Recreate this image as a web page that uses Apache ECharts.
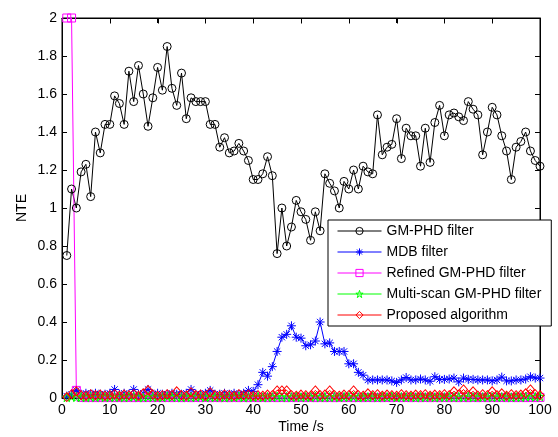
<!DOCTYPE html>
<html>
<head>
<meta charset="utf-8">
<script src="https://cdn.jsdelivr.net/npm/echarts@6/dist/echarts.min.js"></script>
<style>
html,body{margin:0;padding:0;background:#fff;}
#c{width:558px;height:437px;}
</style>
</head>
<body>
<div id="c"></div>
<script>
// Time steps 1..100
var times = [];
for (var i = 1; i <= 100; i++) times.push(i);

var xTicks = [0,10,20,30,40,50,60,70,80,90,100];
var yTicks = [0,0.2,0.4,0.6,0.8,1,1.2,1.4,1.6,1.8,2];

var seriesNames = ['GM-PHD filter','MDB filter','Refined GM-PHD filter','Multi-scan GM-PHD filter','Proposed algorithm'];

var gmphd = [0.75,1.10,1.00,1.19,1.23,1.06,1.40,1.29,1.44,1.44,
             1.59,1.55,1.44,1.72,1.56,1.75,1.60,1.43,1.58,1.74,
             1.62,1.85,1.63,1.54,1.71,1.47,1.58,1.56,1.56,1.56,
             1.44,1.44,1.32,1.37,1.29,1.30,1.34,1.30,1.25,1.15,
             1.15,1.18,1.27,1.17,0.76,1.00,0.80,0.90,1.04,0.98,
             0.94,0.83,0.98,0.88,1.18,1.13,1.09,1.00,1.14,1.10,
             1.20,1.10,1.22,1.19,1.18,1.49,1.28,1.32,1.335,1.47,
             1.26,1.42,1.38,1.38,1.22,1.42,1.24,1.45,1.54,1.38,
             1.49,1.50,1.48,1.46,1.56,1.52,1.49,1.28,1.40,1.53,
             1.49,1.38,1.30,1.15,1.32,1.35,1.40,1.30,1.25,1.22];

var mdb = [0.010,0.020,0.040,0.020,0.025,0.020,0.025,0.020,0.020,0.025,
           0.045,0.020,0.025,0.020,0.045,0.020,0.025,0.045,0.020,0.025,
           0.020,0.020,0.025,0.020,0.020,0.025,0.045,0.020,0.020,0.025,
           0.040,0.020,0.020,0.025,0.020,0.025,0.020,0.025,0.040,0.035,
           0.070,0.135,0.115,0.165,0.245,0.320,0.335,0.380,0.320,0.315,
           0.275,0.280,0.300,0.400,0.285,0.290,0.245,0.245,0.245,0.180,
           0.180,0.135,0.120,0.095,0.095,0.095,0.095,0.095,0.090,0.082,
           0.095,0.108,0.095,0.095,0.100,0.095,0.088,0.112,0.098,0.098,
           0.100,0.105,0.085,0.105,0.098,0.098,0.095,0.095,0.095,0.090,
           0.095,0.110,0.090,0.090,0.095,0.095,0.100,0.112,0.105,0.105];

var refined = [2.0,2.0,0.04,0.003,0.002,0.003,0.002,0.003,0.002,0.003,
               0.002,0.003,0.002,0.003,0.002,0.003,0.002,0.003,0.002,0.003,
               0.002,0.003,0.002,0.003,0.002,0.003,0.002,0.003,0.002,0.003,
               0.002,0.003,0.002,0.003,0.002,0.003,0.002,0.003,0.002,0.003,
               0.002,0.003,0.002,0.003,0.002,0.003,0.002,0.003,0.002,0.003,
               0.002,0.003,0.002,0.003,0.002,0.003,0.002,0.003,0.002,0.003,
               0.002,0.003,0.002,0.003,0.002,0.003,0.002,0.003,0.002,0.003,
               0.002,0.003,0.002,0.003,0.002,0.003,0.002,0.003,0.002,0.003,
               0.002,0.003,0.002,0.003,0.002,0.003,0.002,0.003,0.002,0.003,
               0.002,0.003,0.002,0.003,0.002,0.003,0.002,0.003,0.002,0.003];

var multiscan = [0.004,0.008,0.005,0.006,0.004,0.007,0.005,0.008,0.004,0.006,
                 0.005,0.007,0.004,0.006,0.008,0.005,0.004,0.007,0.005,0.006,
                 0.004,0.008,0.005,0.006,0.004,0.007,0.005,0.006,0.008,0.004,
                 0.006,0.005,0.007,0.004,0.006,0.005,0.008,0.004,0.006,0.005,
                 0.007,0.004,0.006,0.005,0.008,0.004,0.006,0.005,0.007,0.004,
                 0.006,0.005,0.008,0.004,0.006,0.005,0.007,0.004,0.006,0.005,
                 0.008,0.004,0.006,0.005,0.007,0.004,0.006,0.005,0.008,0.004,
                 0.006,0.005,0.007,0.004,0.006,0.005,0.008,0.004,0.006,0.005,
                 0.007,0.004,0.006,0.005,0.008,0.004,0.006,0.005,0.007,0.004,
                 0.006,0.005,0.008,0.004,0.006,0.005,0.007,0.009,0.006,0.008];

var proposed = [0.005,0.020,0.035,0.015,0.012,0.020,0.015,0.018,0.012,0.015,
                0.020,0.012,0.018,0.015,0.020,0.012,0.025,0.042,0.018,0.012,
                0.015,0.020,0.015,0.035,0.015,0.012,0.030,0.015,0.018,0.012,
                0.030,0.015,0.012,0.018,0.015,0.012,0.020,0.015,0.018,0.012,
                0.015,0.012,0.018,0.015,0.040,0.040,0.040,0.015,0.012,0.018,
                0.015,0.012,0.040,0.015,0.018,0.040,0.015,0.012,0.018,0.015,
                0.040,0.015,0.012,0.025,0.015,0.020,0.012,0.018,0.015,0.012,
                0.020,0.015,0.012,0.018,0.015,0.020,0.012,0.018,0.015,0.020,
                0.015,0.035,0.018,0.045,0.015,0.035,0.012,0.020,0.015,0.035,
                0.015,0.025,0.012,0.020,0.015,0.018,0.025,0.045,0.020,0.015];

function pairs(vals){ return times.map(function(t,i){ return [t, vals[i]]; }); }

var FONT = "'Liberation Sans', Arial, Helvetica, sans-serif";
var asterisk = 'path://M0,-1L0,1M-1,0L1,0M-0.7,-0.7L0.7,0.7M-0.7,0.7L0.7,-0.7';
var pentagram = 'path://M0,-1L0.2245,-0.309L0.951,-0.309L0.363,0.118L0.588,0.809L0,0.382L-0.588,0.809L-0.363,0.118L-0.951,-0.309L-0.2245,-0.309Z';

function mk(name, vals, color, symbol, size){
  return {
    name: name, type: 'line', data: pairs(vals),
    symbol: symbol, symbolSize: size, showAllSymbol: true,
    clip: false,
    lineStyle: { color: color, width: 1 },
    itemStyle: { color: 'rgba(0,0,0,0)', borderColor: color, borderWidth: 1 }
  };
}

var chart = echarts.init(document.getElementById('c'));
function tick(){ return { show: true, inside: true, length: 5, lineStyle: { color: '#000', width: 1 } }; }
function line(){ return { show: true, onZero: false, lineStyle: { color: '#000', width: 1 } }; }

chart.setOption({
  animation: false,
  backgroundColor: '#fff',
  grid: { left: 62, right: 18, top: 18, bottom: 39, outerBoundsMode: 'none', containLabel: false,
          show: true, borderColor: '#000', borderWidth: 1 },
  legend: {
    orient: 'vertical', left: 328, top: 220, z: 10,
    data: seriesNames,
    backgroundColor: '#fff', borderColor: '#000', borderWidth: 1, borderRadius: 0,
    padding: [4, 10, 4, 9],
    itemWidth: 44, itemHeight: 9, itemGap: 7,
    itemStyle: { color: 'rgba(0,0,0,0)', borderWidth: 1 },
    lineStyle: { width: 1 },
    textStyle: { fontFamily: FONT, fontSize: 14, color: '#000' },
    selectedMode: false
  },
  xAxis: [
    { type: 'value', min: 0, max: 100, interval: 10, position: 'bottom',
      axisLine: line(), axisTick: tick(), splitLine: { show: false },
      name: 'Time /s', nameLocation: 'middle', nameGap: 22, nameMoveOverlap: false,
      nameTextStyle: { fontFamily: FONT, fontSize: 14, color: '#000' },
      axisLabel: { color: '#000', fontSize: 14, fontFamily: FONT, margin: 5 } },
    { type: 'value', min: 0, max: 100, interval: 10, position: 'top',
      axisLine: line(), axisTick: tick(), splitLine: { show: false },
      axisLabel: { show: false } }
  ],
  yAxis: [
    { type: 'value', min: 0, max: 2, interval: 0.2, position: 'left',
      axisLine: line(), axisTick: tick(), splitLine: { show: false },
      name: 'NTE', nameLocation: 'middle', nameGap: 33, nameMoveOverlap: false,
      nameTextStyle: { fontFamily: FONT, fontSize: 14, color: '#000' },
      axisLabel: { color: '#000', fontSize: 14, fontFamily: FONT, margin: 5,
        formatter: function(v){ return String(Math.round(v*10)/10); } } },
    { type: 'value', min: 0, max: 2, interval: 0.2, position: 'right',
      axisLine: line(), axisTick: tick(), splitLine: { show: false },
      axisLabel: { show: false } }
  ],
  series: [
    mk(seriesNames[0], gmphd, '#000000', 'circle', 8),
    mk(seriesNames[1], mdb, '#0000ff', asterisk, 9),
    mk(seriesNames[2], refined, '#ff00ff', 'rect', 8),
    mk(seriesNames[3], multiscan, '#00ff00', pentagram, 9),
    mk(seriesNames[4], proposed, '#ff0000', 'diamond', [8, 9])
  ]
});

// Frame (top/right edges and inward ticks) positioned via the chart's own scales, kept below the legend
(function(){
  var g = { gridIndex: 0 };
  var p0 = chart.convertToPixel(g, [xTicks[0], yTicks[0]]);
  var p1 = chart.convertToPixel(g, [xTicks[xTicks.length-1], yTicks[yTicks.length-1]]);
  var L = Math.round(p0[0]) + 0.5, B = Math.round(p0[1]) + 0.5;
  var R = Math.round(p1[0]) + 0.5, T = Math.round(p1[1]) + 0.5;
  var els = [{
    type: 'rect', silent: true, z: 3,
    shape: { x: L, y: T, width: R - L, height: B - T },
    style: { fill: 'none', stroke: '#000', lineWidth: 1 }
  }];
  xTicks.forEach(function(v){
    var x = Math.round(chart.convertToPixel(g, [v, 0])[0]) + 0.5;
    els.push({ type: 'line', silent: true, z: 3, shape: { x1: x, y1: T, x2: x, y2: T + 5 }, style: { stroke: '#000', lineWidth: 1 } });
  });
  yTicks.forEach(function(v){
    var y = Math.round(chart.convertToPixel(g, [0, v])[1]) + 0.5;
    els.push({ type: 'line', silent: true, z: 3, shape: { x1: R, y1: y, x2: R - 5, y2: y }, style: { stroke: '#000', lineWidth: 1 } });
  });
  chart.setOption({ graphic: els });
})();
</script>
</body>
</html>
